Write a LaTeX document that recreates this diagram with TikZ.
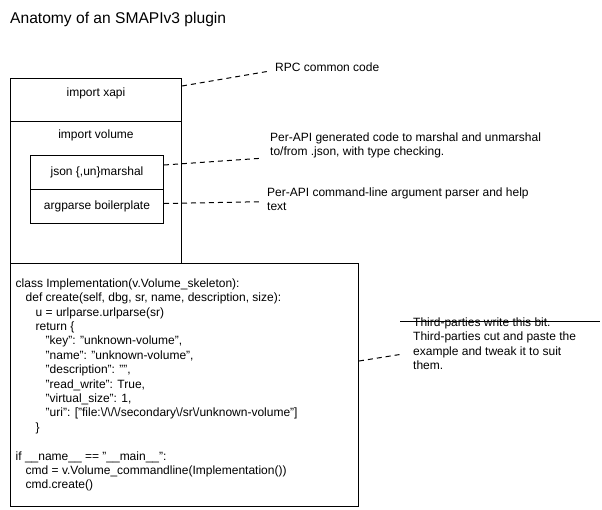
\documentclass[tikz,border=0pt]{standalone}
\usepackage{fontspec}
\setmainfont{Liberation Sans}
\newlength\lvlstep
\setlength\lvlstep{10pt}
\newcommand{\lvl}[1]{\hspace*{#1\lvlstep}}
\newcommand{\bsl}{\textbackslash}
\begin{document}
\begin{tikzpicture}[x=1pt, y=-1pt,
  box/.style={draw, line width=1pt, inner sep=0pt, anchor=north west,
    font=\fontsize{12}{14.4}\selectfont},
  lbl/.style={inner sep=0pt, font=\fontsize{12}{14.4}\selectfont},
  note/.style={inner sep=0pt, align=left, font=\fontsize{12}{14.4}\selectfont},
  link/.style={line width=1pt, dash pattern=on 5pt off 4pt}]

\useasboundingbox (0,0) rectangle (602,509);

% Titolo
\node[inner sep=0pt, anchor=base west, font=\fontsize{15.6}{18.7}\selectfont] (title) at (10,23) {Anatomy of an SMAPIv3 plugin};

% Blocchi del plugin
\node[box, minimum width=171pt, minimum height=43pt,
  label={[lbl, anchor=base, yshift=-18pt]north:import xapi}] (xapi) at (10,78) {};
\node[box, minimum width=171pt, minimum height=142pt,
  label={[lbl, anchor=base, yshift=-17pt]north:import volume}] (volume) at (10,121) {};
\node[box, minimum width=133pt, minimum height=34pt] (json) at (30,155) {json \{,un\}marshal};
\node[box, minimum width=133pt, minimum height=34pt] (argparse) at (30,189) {argparse boilerplate};
\node[box, minimum width=348pt, minimum height=243pt] (impl) at (10,263) {};

% Codice di esempio
\node[note, anchor=west] (code) at ([xshift=5.5pt]impl.west) {%
class Implementation(v.Volume\_skeleton):\\
\lvl{1}def create(self, dbg, sr, name, description, size):\\
\lvl{2}u = urlparse.urlparse(sr)\\
\lvl{2}return \{\\
\lvl{3}"key": "unknown-volume",\\
\lvl{3}"name": "unknown-volume",\\
\lvl{3}"description": "",\\
\lvl{3}"read\_write": True,\\
\lvl{3}"virtual\_size": 1,\\
\lvl{3}"uri": ["file:\bsl/\bsl/\bsl/secondary\bsl/sr\bsl/unknown-volume"]\\
\lvl{2}\}\\
\mbox{}\\
if \_\_name\_\_ == "\_\_main\_\_":\\
\lvl{1}cmd = v.Volume\_commandline(Implementation())\\
\lvl{1}cmd.create()};

% Note a destra
\node[note, anchor=base west] (rpc) at (275,71.5) {RPC common code};
\node[note, anchor=west] (gen) at (270,145.2) {Per-API generated code to marshal and unmarshal\\to/from .json, with type checking.};
\node[note, anchor=west] (cli) at (267,199.2) {Per-API command-line argument parser and help\\text};
\node[note, anchor=west] (third) at (413,343.6) {Third-parties write this bit.\\Third-parties cut and paste the\\example and tweak it to suit\\them.};

% Testo barrato
\draw[line width=1pt] (400,321) -- (600,321);

% Collegamenti tratteggiati
\draw[link] ([yshift=-8pt]xapi.north east) -- ([xshift=-8pt]rpc.base west);
\draw[link] ([yshift=-10pt]json.north east) -- ([xshift=-8pt, yshift=-13pt]gen.west);
\draw[link] ([yshift=3pt]argparse.east) -- ([xshift=-5pt, yshift=-2.5pt]cli.west);
\draw[link] ([yshift=24pt]impl.east) -- ([xshift=-10pt, yshift=-10.4pt]third.west);

\end{tikzpicture}
\end{document}
